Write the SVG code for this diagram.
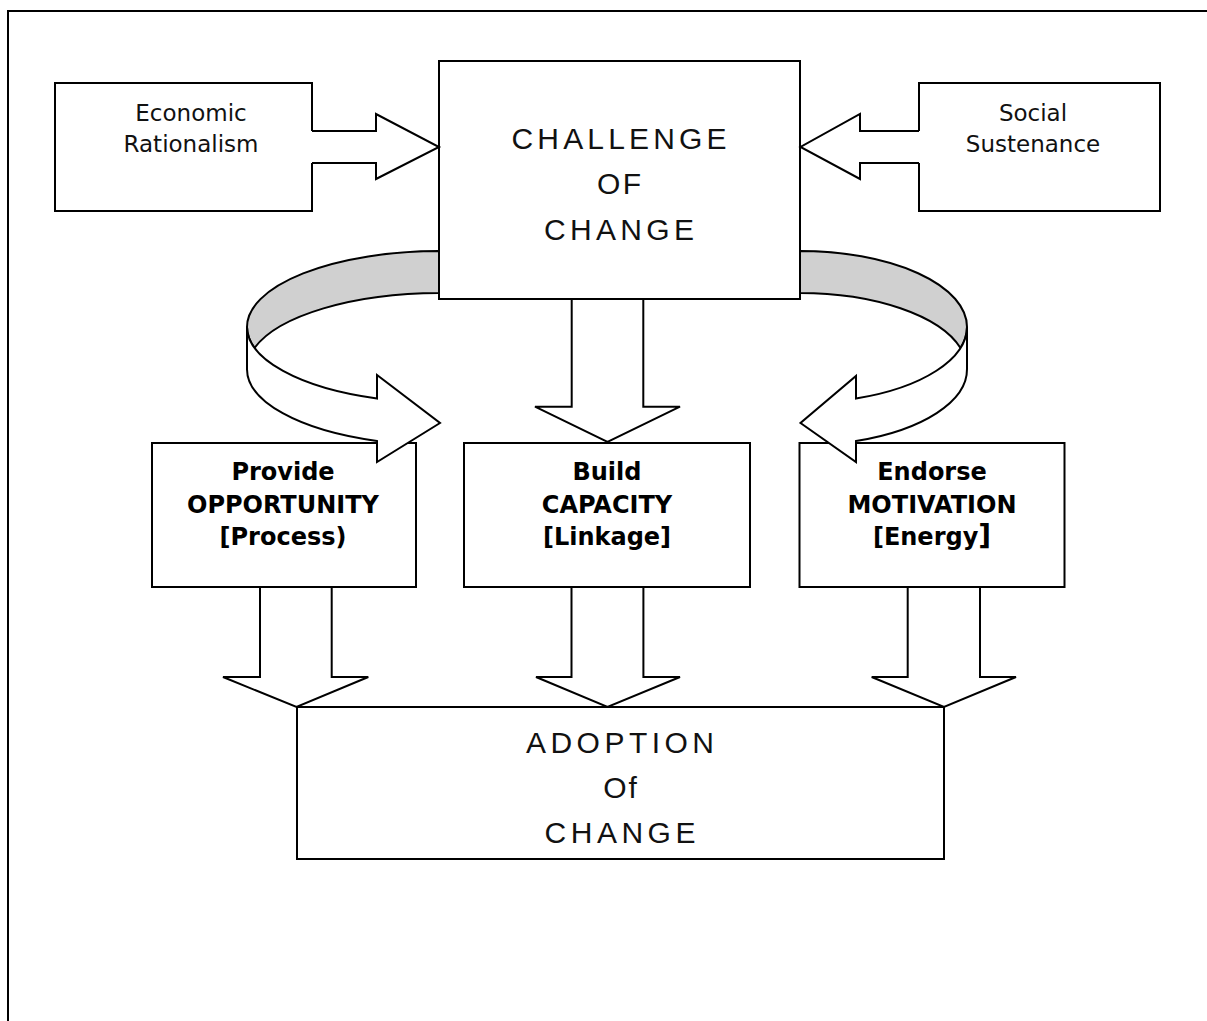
<svg xmlns="http://www.w3.org/2000/svg" width="1207" height="1021" viewBox="0 0 1207 1021">
  <style>
    .ln { fill: #fff; stroke: #000; stroke-width: 2; stroke-linejoin: miter; }
    .band { fill: #d0d0d0; stroke: #000; stroke-width: 2; }
    .frame { fill: none; stroke: #000; stroke-width: 2; }
    .sm { font-family: "DejaVu Sans", Verdana, sans-serif; font-size: 23px; fill: #111; text-anchor: middle; }
    .bd { font-family: "DejaVu Sans", Verdana, sans-serif; font-size: 24px; font-weight: bold; fill: #000; text-anchor: middle; }
    .big { font-family: "Liberation Sans", Arial, sans-serif; font-size: 30px; fill: #111; text-anchor: middle; }
  </style>

  <!-- page frame (top and left edges) -->
  <path class="frame" d="M8,1021 V11 H1207"/>

  <g id="economic">
    <path class="ln" d="M312,131 V83 H55 V211 H312 V163"/>
    <text class="sm" x="191" y="121">Economic</text>
    <text class="sm" x="191" y="152">Rationalism</text>
  </g>

  <g id="social">
    <path class="ln" d="M919,131 V83 H1160 V211 H919 V163"/>
    <text class="sm" x="1033" y="121">Social</text>
    <text class="sm" x="1033" y="152">Sustenance</text>
  </g>

  <g id="challenge">
    <rect class="ln" x="439" y="61" width="361" height="238"/>
    <text class="big" x="619" y="149" textLength="215" lengthAdjust="spacing">CHALLENGE</text>
    <text class="big" x="619" y="194" textLength="44" lengthAdjust="spacing">OF</text>
    <text class="big" x="619" y="240" textLength="150" lengthAdjust="spacing">CHANGE</text>
  </g>

  <g id="opportunity">
    <rect class="ln" x="152" y="443" width="264" height="144"/>
    <text class="bd" x="283" y="480">Provide</text>
    <text class="bd" x="283" y="513">OPPORTUNITY</text>
    <text class="bd" x="283" y="545">[Process)</text>
  </g>

  <g id="capacity">
    <rect class="ln" x="464" y="443" width="286" height="144"/>
    <text class="bd" x="607" y="480">Build</text>
    <text class="bd" x="607" y="513">CAPACITY</text>
    <text class="bd" x="607" y="545">[Linkage]</text>
  </g>

  <g id="motivation">
    <rect class="ln" x="799.5" y="443" width="265" height="144"/>
    <text class="bd" x="932" y="480">Endorse</text>
    <text class="bd" x="932" y="513">MOTIVATION</text>
    <text class="bd" x="932" y="545">[Energy<tspan font-size="28">]</tspan></text>
  </g>

  <g id="adoption">
    <rect class="ln" x="297" y="707" width="647" height="152"/>
    <text class="big" x="620" y="753" font-size="31" textLength="188" lengthAdjust="spacing">ADOPTION</text>
    <text class="big" x="621" y="798" font-size="31" letter-spacing="2">Of</text>
    <text class="big" x="620" y="843" font-size="31" textLength="151" lengthAdjust="spacing">CHANGE</text>
  </g>

  <!-- connectors, drawn last so the curved arrowheads sit over the box tops -->
  <g id="connectors">
    <!-- curved arrow, left: back (grey) then front face -->
    <path class="band" d="M439,251 A193,76 0 0 0 247,327 A193,76 0 0 0 254.5,348 A193,76 0 0 1 439,293 Z"/>
    <path class="ln" d="M247,327 L247,369 A193,76 0 0 0 377,441 L377,462 L440,423 L377,375 L377,398.5 A193,76 0 0 1 247,327 Z"/>
    <!-- curved arrow, right -->
    <path class="band" d="M800,251 A167,76 0 0 1 967,327 A167,76 0 0 1 960.5,348 A167,76 0 0 0 800,293 Z"/>
    <path class="ln" d="M967,327 L967,369 A167,76 0 0 1 856,441 L856,462 L800.5,423 L856,376 L856,398.5 A167,76 0 0 0 967,327 Z"/>
    <!-- side inputs -->
    <path class="ln" d="M312,131 H376 V114 L439,147 L376,179 V163 H312"/>
    <path class="ln" d="M919,131 H860 V114 L800.5,147 L860,179 V163 H919"/>
    <!-- challenge to capacity (shafts start just under the box edge) -->
    <path class="ln" d="M571.7,300 V406.7 H535 L607.5,442 L680,406.7 H643.3 V300"/>
    <!-- three outputs into adoption -->
    <path class="ln" d="M260,588 V677 H223 L296.5,707 L368.3,677 H331.7 V588"/>
    <path class="ln" d="M571.5,588 V677 H536 L607.5,707 L680,677 H643.4 V588"/>
    <path class="ln" d="M907.7,588 V677 H871.7 L944,707 L1016,677 H980 V588"/>
  </g>
</svg>
